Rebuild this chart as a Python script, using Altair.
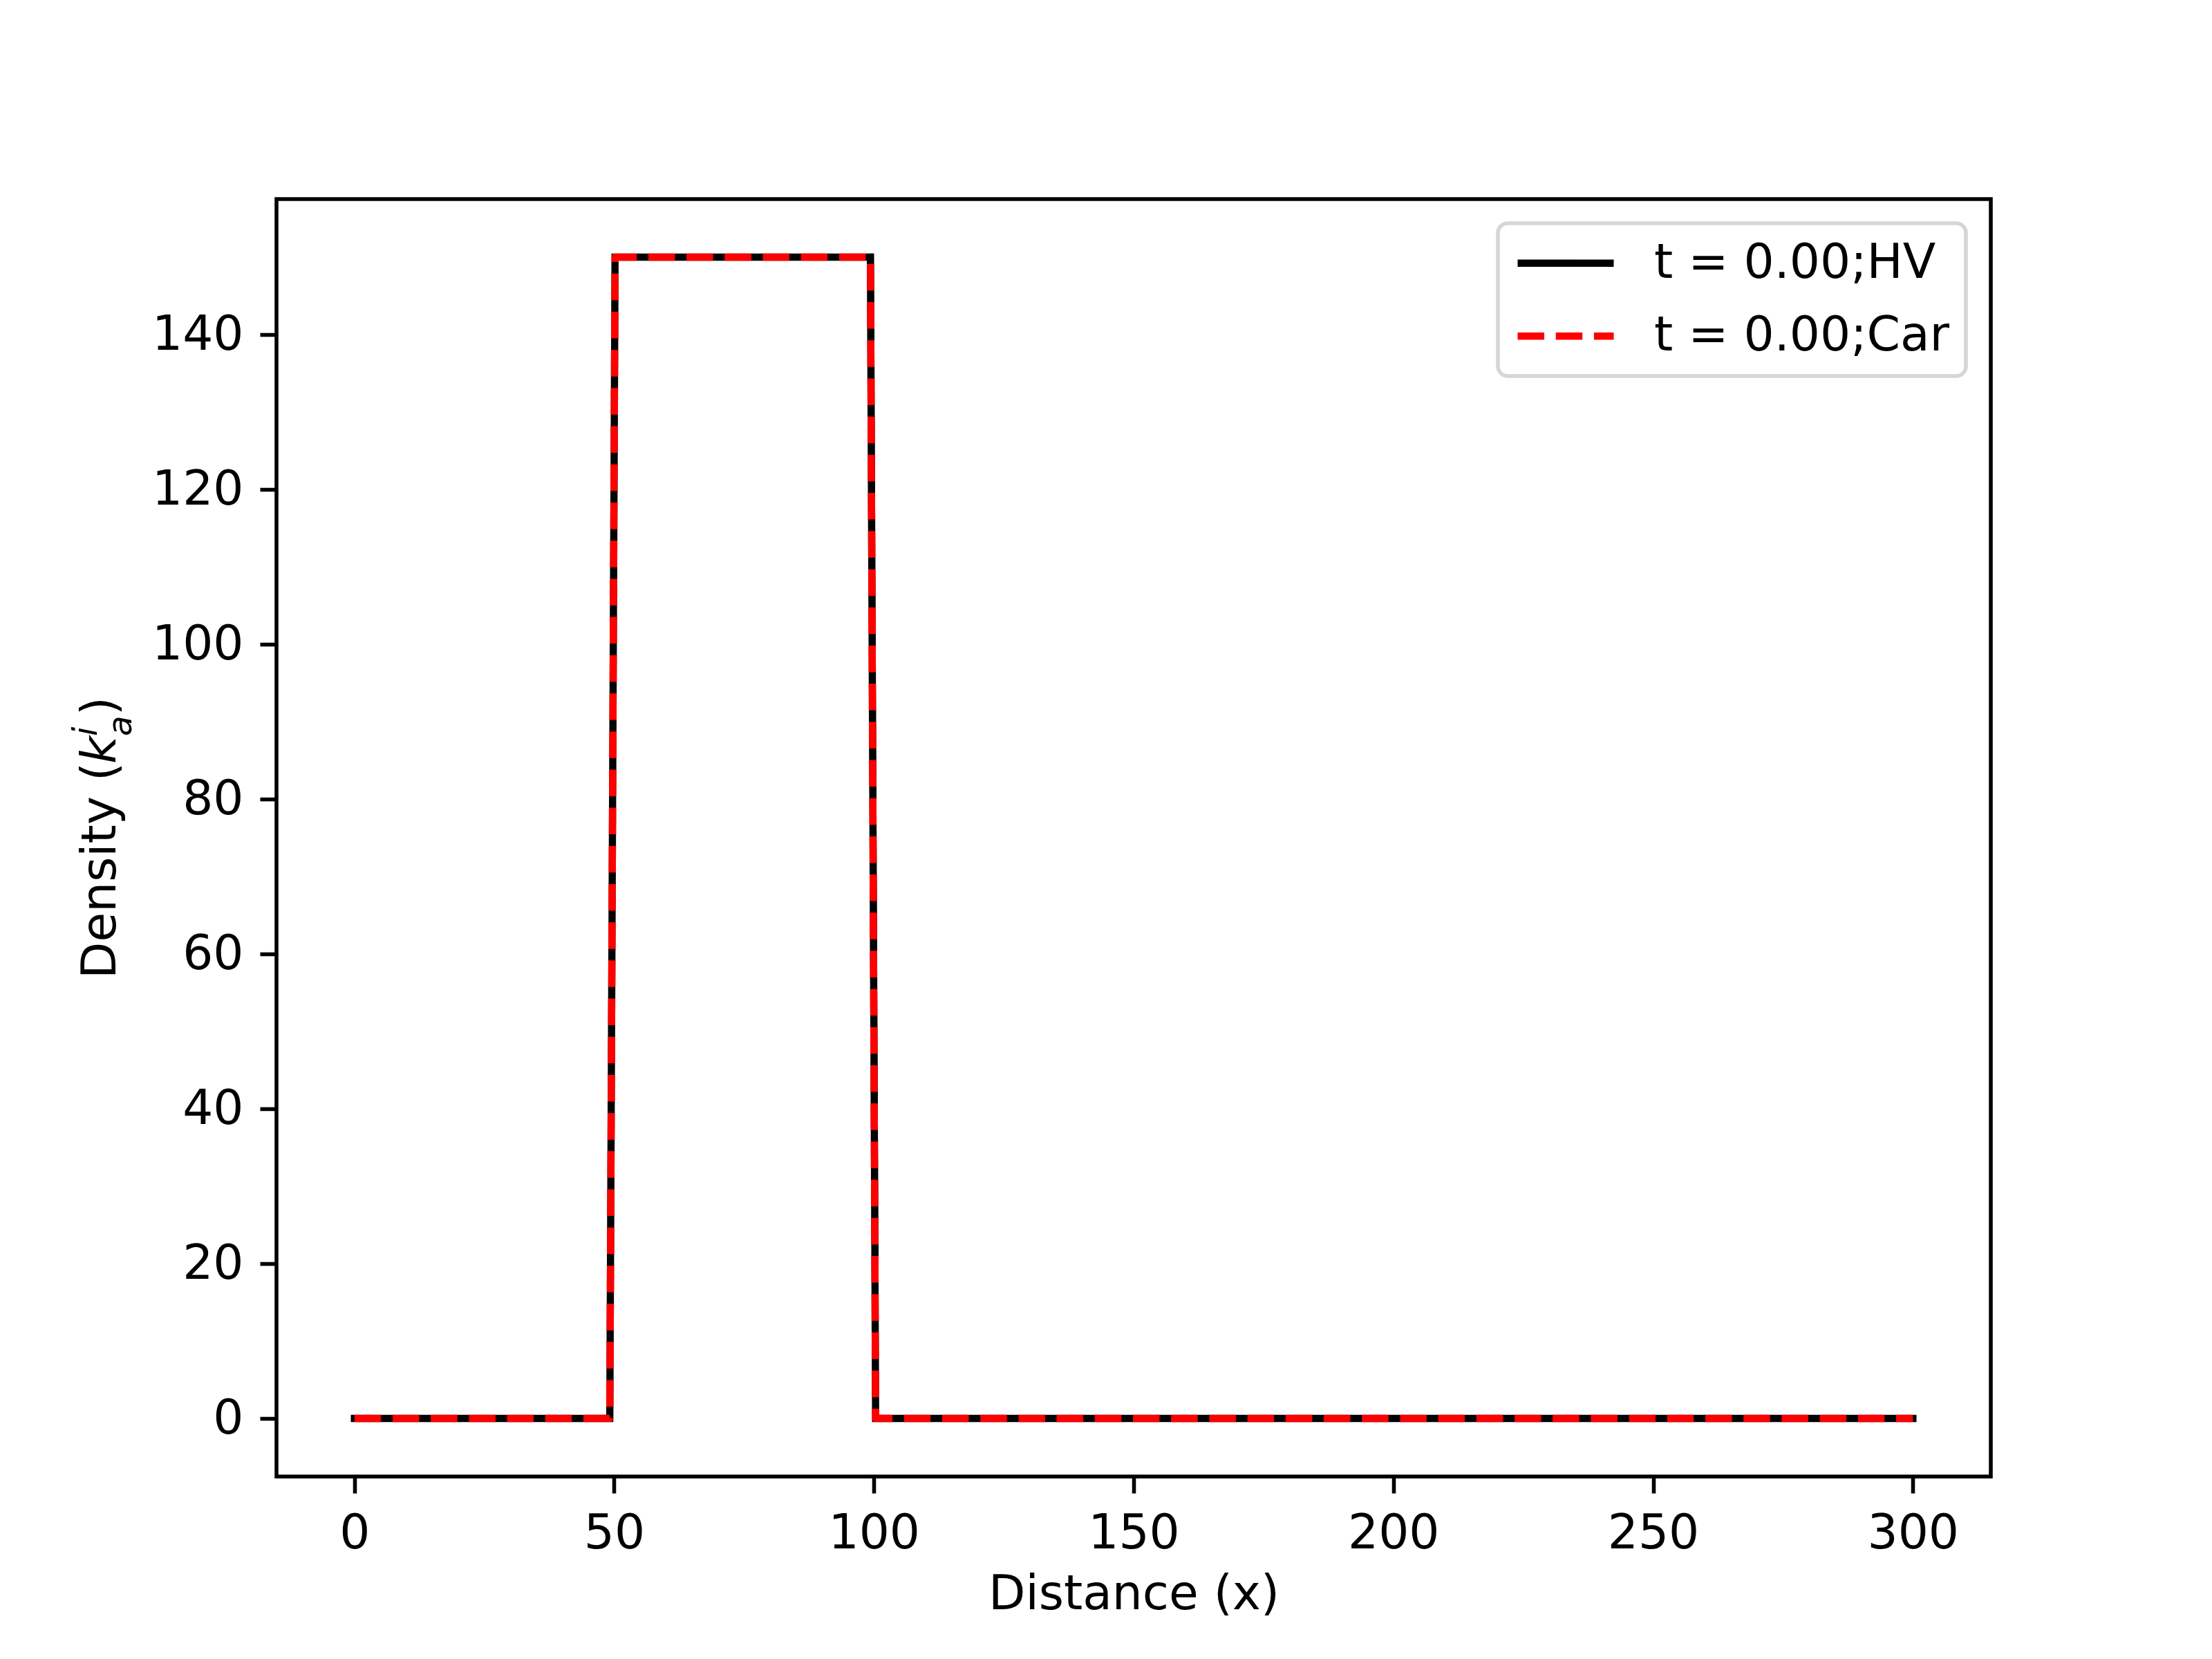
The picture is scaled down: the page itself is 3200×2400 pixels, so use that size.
import altair as alt
import pandas as pd

# ---- data ----
series_names = ["t = 0.00;HV", "t = 0.00;Car"]
hv_x = [0.0, 49.16, 50.17, 99.33, 100.33, 300.0]
hv_y = [0.0, 0.0, 150.0, 150.0, 0.0, 0.0]
car_x = [0.0, 49.16, 50.17, 99.33, 100.33, 300.0]
car_y = [0.0, 0.0, 150.0, 150.0, 0.0, 0.0]
x_ticks = [0, 50, 100, 150, 200, 250, 300]
y_ticks = [0, 20, 40, 60, 80, 100, 120, 140]
x_title = "Distance (x)"

# ---- style ----
FONT = "DejaVu Sans"
FS = 69.44
SUB = FS * 0.7
LW = 10.42
AXLW = 5.56

hv = pd.DataFrame({"x": hv_x, "y": hv_y, "series": series_names[0]})
car = pd.DataFrame({"x": car_x, "y": car_y, "series": series_names[1]})

xs = alt.Scale(domain=[-15, 315], nice=False, zero=False)
ys = alt.Scale(domain=[-7.5, 157.5], nice=False, zero=False)

common_axis = dict(domain=False, grid=False, tickSize=24, tickWidth=AXLW, tickColor="black",
                   labelFontSize=FS, labelColor="black", labelFont=FONT, labelOverlap=False,
                   labelFlush=False, format="d")
xaxis = alt.Axis(values=x_ticks, title=x_title, labelPadding=24, titleFontSize=FS,
                 titleFontWeight="normal", titleColor="black", titleFont=FONT, titlePadding=20,
                 **common_axis)
yaxis = alt.Axis(values=y_ticks, title=None, labelPadding=24, **common_axis)

color_scale = alt.Scale(domain=series_names, range=["#000000", "#ff0000"])
dash_scale = alt.Scale(domain=series_names, range=[[1, 0], [38.5, 16.7]])
legend = alt.Legend(title=None, orient="none", legendX=1767, legendY=35, symbolType="stroke",
                    symbolSize=19321, symbolStrokeWidth=LW, labelFontSize=FS, labelFont=FONT,
                    labelColor="black", labelOffset=53, labelLimit=2000, clipHeight=69.4,
                    padding=23, rowPadding=34.6,
                    fillColor="white", strokeColor="#d6d6d6", cornerRadius=14)


def line(df, cap):
    return alt.Chart(df).mark_line(strokeWidth=LW, strokeJoin="round", strokeCap=cap).encode(
        x=alt.X("x:Q", scale=xs, axis=xaxis),
        y=alt.Y("y:Q", scale=ys, axis=yaxis),
        color=alt.Color("series:N", scale=color_scale, legend=legend),
        strokeDash=alt.StrokeDash("series:N", scale=dash_scale, legend=legend),
    )


def label(txt, x, y, size, style="normal"):
    return alt.Chart(pd.DataFrame({"t": [txt]})).mark_text(
        angle=270, align="left", baseline="alphabetic", font=FONT, fontSize=size,
        fontStyle=style, color="black"
    ).encode(text="t:N", x=alt.value(x), y=alt.value(y))


ytitle = [
    label("Density (", -233, 1128, FS),
    label("k", -233, 817, FS, "italic"),
    label("i", -260, 777, SUB, "italic"),
    label("a", -210, 777, SUB, "italic"),
    label(")", -233, 747, FS),
]

chart = alt.layer(line(hv, "square"), line(car, "butt"), *ytitle).properties(
    width=2480, height=1848,
    autosize=alt.AutoSizeParams(type="none"),
    padding={"left": 392, "top": 280, "right": 312, "bottom": 256},
).configure(font=FONT).configure_view(stroke="black", strokeWidth=AXLW).configure_legend(
    strokeWidth=AXLW
)

chart.save("out.html", embed_options={"renderer": "svg", "actions": False})
